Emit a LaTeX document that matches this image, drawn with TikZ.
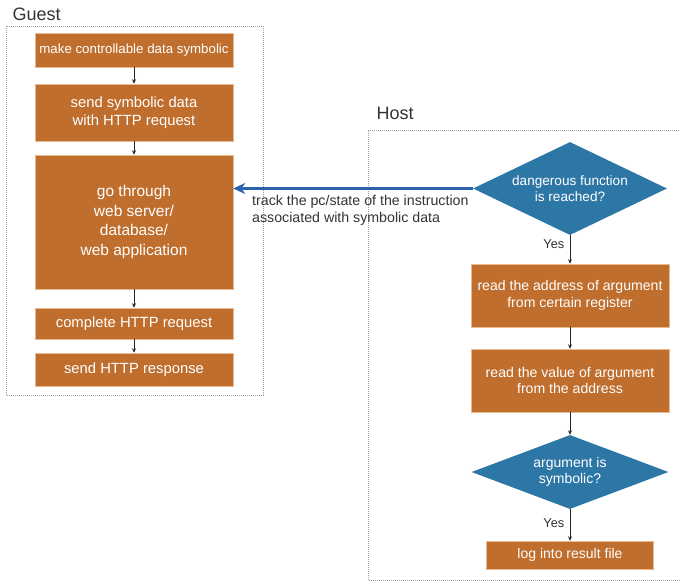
\documentclass[tikz,border=0pt]{standalone}
\usepackage{fontspec}
\setmainfont{Liberation Sans}
\usetikzlibrary{shapes.geometric,arrows.meta}
\definecolor{stepfill}{HTML}{BF6E2E}
\definecolor{stepline}{HTML}{E8B98F}
\definecolor{decfill}{HTML}{2D77A7}
\definecolor{trackblue}{HTML}{2A62AE}
\definecolor{labelgray}{HTML}{333333}
\definecolor{framegray}{HTML}{A0A0A0}
\tikzset{
  stepbox/.style={rectangle, fill=stepfill, draw=stepline, line width=0.5pt,
    text=white, align=center, inner sep=0pt,
    font=\fontsize{14.8}{17.5}\selectfont},
  decision/.style={diamond, fill=decfill, text=white, align=center, inner sep=0pt,
    aspect=2, font=\fontsize{13.6}{16.5}\selectfont},
  frame/.style={draw=framegray, line width=0.6pt, dash pattern=on 0.8pt off 1.2pt},
  flow/.style={draw=black!85, line width=0.7pt, -{Stealth[length=4.5pt,width=4pt]}},
  region/.style={text=labelgray, anchor=base west, font=\fontsize{18}{20}\selectfont},
  yeslabel/.style={text=labelgray, font=\fontsize{12.8}{15}\selectfont},
}
\begin{document}
\begin{tikzpicture}[x=1pt,y=-1pt]
  \useasboundingbox (0,0) rectangle (680,581);

  % region frames
  \draw[frame] (6,26) rectangle (263,395);
  \draw[frame] (681,130) -- (368,130) -- (368,580) -- (681,580);
  \node[region] (guest) at (9,20) {Guest};
  \node[region] (host) at (373,119) {Host};

  % guest side
  \node[stepbox, minimum width=198pt, minimum height=34pt,
        font=\fontsize{13.3}{16}\selectfont] (g1) at (134,50) {make controllable data symbolic};
  \node[stepbox, minimum width=198pt, minimum height=57pt] (g2) at (134,112.5)
        {send symbolic data\\with HTTP request};
  \node[stepbox, minimum width=198pt, minimum height=134pt,
        font=\fontsize{15.5}{19.8}\selectfont] (g3) at (134,222)
        {go through\\web server/\\database/\\web application};
  \node[stepbox, minimum width=198pt, minimum height=31pt] (g4) at (134,323.5) {complete HTTP request};
  \node[stepbox, minimum width=198pt, minimum height=33pt] (g5) at (134,369.5) {send HTTP response};

  \draw[flow] (g1) -- (g2);
  \draw[flow] (g2) -- (g3);
  \draw[flow] (g3) -- (g4);
  \draw[flow] (g4) -- (g5);

  % host side
  \node[decision, minimum width=194pt, minimum height=93pt] (d1) at (570,188.5)
        {dangerous function\\is reached?};
  \node[stepbox, minimum width=198pt, minimum height=63pt,
        font=\fontsize{14.1}{16.7}\selectfont] (h1) at (570,295.5)
        {read the address of argument\\from certain register};
  \node[stepbox, minimum width=198pt, minimum height=63pt,
        font=\fontsize{14.1}{16.7}\selectfont] (h2) at (570,380.5)
        {read the value of argument\\from the address};
  \node[decision, minimum width=197pt, minimum height=74pt,
        font=\fontsize{14}{16.7}\selectfont] (d2) at (570,472)
        {argument is\\symbolic?};
  \node[stepbox, minimum width=167pt, minimum height=28pt,
        font=\fontsize{14}{16}\selectfont] (h3) at (570,555) {log into result file};

  \draw[flow] (d1) -- node[yeslabel, pos=0.3, left=2pt] (yes1) {Yes} (h1);
  \draw[flow] (h1) -- (h2);
  \draw[flow] (h2) -- (d2);
  \draw[flow] (d2) -- node[yeslabel, pos=0.45, left=2pt] (yes2) {Yes} (h3);

  % tracking link back to the guest
  \draw[draw=trackblue, line width=2.8pt, -{Stealth[length=12pt,width=11pt]}]
        (d1.west) -- (g3.east |- d1.west);
  \node[text=labelgray, anchor=north west, align=left, inner sep=0pt,
        font=\fontsize{14.2}{17}\selectfont] (track) at (252,195)
        {track the pc/state of the instruction\\associated with symbolic data};
\end{tikzpicture}
\end{document}
